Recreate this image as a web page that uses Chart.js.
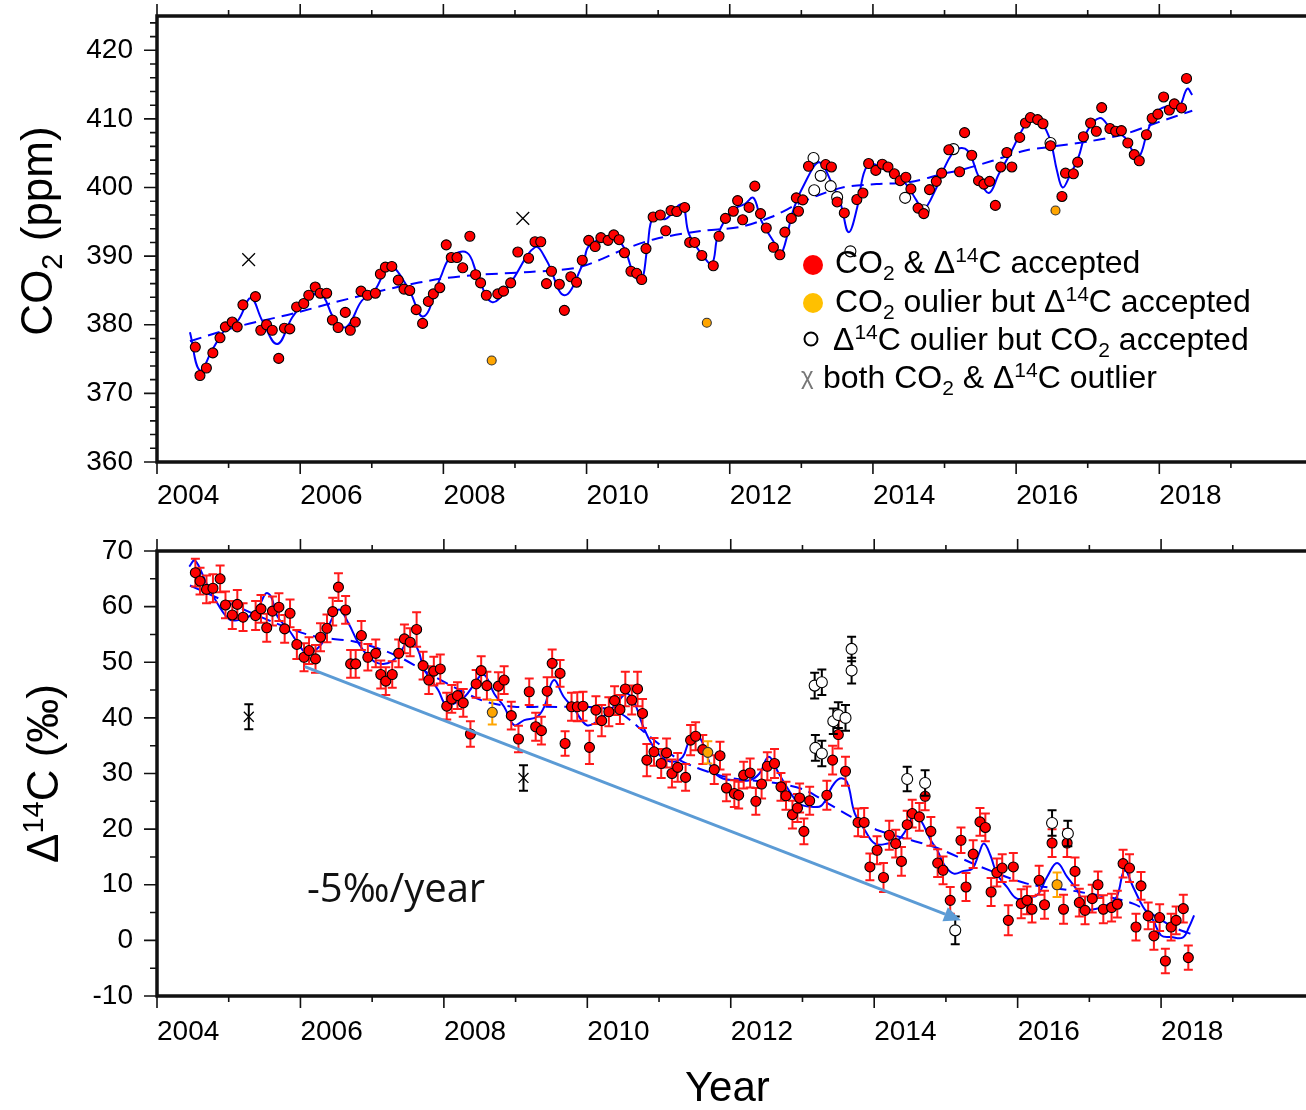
<!DOCTYPE html>
<html>
<head>
<meta charset="utf-8">
<title>CO2 and D14C record</title>
<script src="https://cdn.jsdelivr.net/npm/chart.js@4.4.1/dist/chart.umd.min.js"></script>
<style>
  html, body { margin: 0; padding: 0; background: #fff; }
  .panel { position: absolute; left: 0; width: 1306px; }
  #topPanel { top: 0; height: 530px; }
  #bottomPanel { top: 530px; height: 580px; }
</style>
</head>
<body>
<div class="panel" id="topPanel"><canvas id="co2Chart"></canvas></div>
<div class="panel" id="bottomPanel"><canvas id="d14cChart"></canvas></div>
<script>
var FONT = "'Liberation Sans', Arial, sans-serif";

// tick labels
var yearTicks = [2004, 2006, 2008, 2010, 2012, 2014, 2016, 2018];
var co2Ticks = [360, 370, 380, 390, 400, 410, 420];
var d14cTicks = [-10, 0, 10, 20, 30, 40, 50, 60, 70];

// sample dates (decimal year) where both CO2 and D14C were accepted
var sampleYear = [
  2004.535, 2004.60, 2004.69, 2004.78, 2004.88, 2004.955, 2005.05, 2005.12, 2005.20, 2005.375,
  2005.45, 2005.53, 2005.61, 2005.70, 2005.78, 2005.855, 2005.95, 2006.05, 2006.12, 2006.21,
  2006.28, 2006.37, 2006.45, 2006.53, 2006.63, 2006.70, 2006.77, 2006.85, 2006.94, 2007.05,
  2007.12, 2007.19, 2007.28, 2007.37, 2007.45, 2007.53, 2007.62, 2007.71, 2007.79, 2007.86,
  2007.95, 2008.04, 2008.11, 2008.19, 2008.27, 2008.37, 2008.45, 2008.52, 2008.60, 2008.76,
  2008.84, 2008.94, 2009.04, 2009.19, 2009.28, 2009.36, 2009.44, 2009.51, 2009.62, 2009.69,
  2009.78, 2009.86, 2009.94, 2010.03, 2010.12, 2010.20, 2010.30, 2010.38, 2010.455, 2010.53,
  2010.62, 2010.70, 2010.77, 2010.83, 2010.93, 2011.03, 2011.105, 2011.18, 2011.26, 2011.37,
  2011.44, 2011.51, 2011.61, 2011.77, 2011.85, 2011.94, 2012.05, 2012.11, 2012.18, 2012.27,
  2012.35, 2012.43, 2012.51, 2012.61, 2012.70, 2012.77, 2012.86, 2012.93, 2012.96, 2013.02,
  2013.10, 2013.34, 2013.42, 2013.50, 2013.60, 2013.775, 2013.86, 2013.94, 2014.04, 2014.13,
  2014.21, 2014.30, 2014.38, 2014.46, 2014.53, 2014.63, 2014.71, 2014.79, 2014.885, 2014.96,
  2015.06, 2015.21, 2015.28, 2015.38, 2015.475, 2015.55, 2015.63, 2015.71, 2015.785, 2015.87,
  2015.94, 2016.05, 2016.13, 2016.20, 2016.30, 2016.375, 2016.48, 2016.64, 2016.69, 2016.80,
  2016.86, 2016.94, 2017.04, 2017.12, 2017.195, 2017.31, 2017.39, 2017.47, 2017.56, 2017.65,
  2017.72, 2017.82, 2017.90, 2017.98, 2018.06, 2018.14, 2018.21, 2018.31, 2018.38
];

// CO2 (ppm) at those dates
var co2Val = [
  376.75, 372.6, 373.7, 375.9, 378.1, 379.7, 380.4, 379.7, 382.9, 384.1,
  379.2, 380.0, 379.2, 375.1, 379.5, 379.4, 382.6, 383.1, 384.3, 385.5,
  384.6, 384.6, 380.7, 379.6, 381.8, 379.2, 380.4, 384.9, 384.3, 384.6,
  387.4, 388.4, 388.5, 386.5, 385.2, 385.0, 382.2, 380.2, 383.4, 384.5,
  385.4, 391.65, 389.8, 389.8, 388.3, 392.9, 387.3, 386.1, 384.3, 384.5,
  384.9, 386.1, 390.6, 389.7, 392.1, 392.1, 386.0, 387.8, 385.9, 382.1,
  387.0, 386.2, 389.4, 392.3, 391.4, 392.7, 392.3, 393.1, 392.4, 390.5,
  387.8, 387.5, 386.6, 391.1, 395.7, 396.0, 393.7, 396.65, 396.5, 397.1,
  392.0, 392.0, 390.1, 388.6, 392.9, 395.5, 396.55, 398.1, 395.3, 397.1,
  400.2, 396.2, 394.1, 391.3, 390.2, 393.5, 395.5, 398.5, 396.55, 398.2,
  403.1, 403.35, 403.0, 397.9, 396.3, 398.25, 399.2, 403.5, 402.5, 403.4,
  403.0, 402.0, 401.0, 401.5, 399.8, 397.0, 396.2, 399.7, 400.9, 402.1,
  405.5, 402.3, 408.0, 404.7, 401.0, 400.5, 400.9, 397.4, 403.0, 405.1,
  403.0, 407.3, 409.4, 410.2, 409.9, 409.3, 406.1, 398.7, 402.1, 402.0,
  403.7, 407.4, 409.4, 408.2, 411.65, 408.6, 408.2, 408.3, 406.5, 404.8,
  403.9, 407.7, 410.1, 410.7, 413.2, 411.3, 412.2, 411.6, 415.9
];

// D14C (permil) at those dates, with 1-sigma errors
var d14cVal = [
  66.1, 64.6, 63.1, 63.3, 65.0, 60.3, 58.5, 60.4, 58.1, 58.4,
  59.6, 56.2, 59.2, 59.9, 56.0, 58.8, 53.2, 50.9, 52.1, 50.6,
  54.5, 56.1, 59.1, 63.5, 59.4, 49.7, 49.7, 54.8, 50.9, 51.6,
  47.8, 46.6, 47.8, 51.6, 54.2, 53.6, 55.9, 49.4, 46.8, 48.4,
  48.8, 42.1, 43.4, 44.0, 42.7, 37.1, 46.1, 48.5, 45.8, 45.7,
  46.8, 40.4, 36.2, 44.7, 38.4, 37.7, 44.8, 49.8, 48.0, 35.4,
  42.0, 42.0, 42.1, 34.7, 41.4, 39.5, 41.1, 43.1, 41.5, 45.2,
  43.2, 45.2, 40.8, 32.4, 33.9, 31.8, 33.7, 30.0, 31.1, 29.3,
  36.0, 36.7, 34.3, 30.7, 33.2, 27.4, 26.4, 26.1, 29.7, 30.1,
  25.0, 28.1, 31.3, 31.8, 27.6, 26.0, 22.6, 23.8, 25.6, 19.6,
  25.1, 26.1, 32.4, 37.0, 30.4, 21.2, 21.2, 13.2, 16.2, 11.3,
  18.9, 17.4, 14.2, 20.8, 22.8, 22.2, 25.9, 19.6, 13.9, 12.6,
  7.2, 18.0, 9.6, 15.5, 21.3, 20.3, 8.7, 12.2, 13.0, 3.6,
  13.2, 6.6, 7.2, 5.6, 10.8, 6.4, 17.5, 5.6, 17.5, 12.4,
  6.8, 5.4, 7.5, 10.0, 5.6, 5.9, 6.5, 13.8, 13.0, 2.4,
  9.8, 4.4, 0.8, 4.1, -3.7, 2.4, 3.6, 5.7, -3.1
];
var d14cErr = [
  2.5, 2.4, 2.5, 2.5, 2.4, 2.4, 2.5, 2.6, 2.5, 2.6,
  2.5, 2.5, 2.6, 2.5, 2.5, 2.5, 2.6, 2.5, 2.4, 2.5,
  2.5, 2.5, 2.5, 2.5, 2.5, 2.5, 2.5, 2.6, 2.4, 2.5,
  2.5, 2.5, 2.4, 2.5, 2.6, 2.5, 3.1, 2.5, 2.5, 2.6,
  2.6, 2.4, 2.5, 2.4, 2.5, 2.3, 2.5, 2.6, 2.5, 2.5,
  2.5, 2.5, 2.4, 2.4, 2.5, 2.5, 2.5, 2.5, 2.4, 2.2,
  2.5, 2.6, 2.6, 3.0, 2.5, 2.8, 2.6, 2.6, 2.6, 3.1,
  2.6, 3.1, 2.6, 2.9, 2.5, 2.6, 2.6, 2.5, 2.6, 2.4,
  2.7, 2.5, 2.6, 2.6, 2.5, 2.4, 2.4, 2.4, 2.4, 2.6,
  2.4, 2.6, 2.5, 2.6, 2.5, 2.5, 2.5, 2.5, 2.6, 2.3,
  2.5, 2.6, 2.6, 2.5, 2.6, 2.5, 2.6, 2.4, 2.5, 2.6,
  2.6, 2.5, 2.6, 2.5, 2.5, 2.5, 2.5, 2.6, 2.5, 2.5,
  2.4, 2.3, 2.5, 2.5, 2.5, 2.5, 2.5, 2.5, 2.5, 2.7,
  2.5, 2.6, 2.5, 2.4, 2.6, 2.5, 2.5, 2.6, 2.5, 2.5,
  2.5, 2.5, 2.5, 2.4, 2.5, 2.5, 2.4, 2.5, 2.5, 2.4,
  2.5, 2.4, 2.5, 2.4, 2.2, 2.4, 2.5, 2.5, 2.2
];

// CO2 outlier but D14C accepted
var orangeYear = [2008.675, 2011.68, 2016.55];
var orangeCo2 = [374.8, 380.3, 396.65];
var orangeD14c = [41.0, 33.8, 10.0];
var orangeErr = [2.2, 2.0, 2.2];

// D14C outlier but CO2 accepted
var openCo2Year = [2013.17, 2013.18, 2013.27, 2013.41, 2013.50, 2013.685, 2014.45, 2014.71, 2015.125, 2016.48];
var openCo2 = [404.3, 399.6, 401.7, 400.2, 398.6, 390.7, 398.5, 396.7, 405.6, 406.5];
var openD14cYear = [2013.17, 2013.27, 2013.18, 2013.27, 2013.43, 2013.50, 2013.60, 2013.685, 2013.685, 2014.46, 2014.71, 2015.13, 2016.48, 2016.70];
var openD14c = [45.8, 46.4, 34.6, 33.6, 39.4, 40.5, 40.0, 52.4, 48.5, 29.0, 28.3, 1.8, 21.1, 19.2];
var openErr = [2.3, 2.3, 2.3, 2.3, 2.3, 2.3, 2.3, 2.2, 2.3, 2.2, 2.3, 2.5, 2.3, 2.3];

// both CO2 and D14C outlier
var bothYear = [2005.28, 2009.11];
var bothCo2 = [389.5, 395.5];
var bothD14c = [40.2, 29.2];
var bothErr = [2.25, 2.3];

// smooth fit and trend curves
var co2FitYear = [
  2004.46, 2004.60, 2004.78, 2004.96, 2005.13, 2005.31, 2005.47, 2005.68, 2005.89, 2006.07,
  2006.28, 2006.49, 2006.65, 2006.86, 2007.04, 2007.25, 2007.50, 2007.72, 2007.96, 2008.10,
  2008.33, 2008.47, 2008.68, 2008.93, 2009.28, 2009.44, 2009.69, 2009.95, 2010.04, 2010.36,
  2010.52, 2010.64, 2010.76, 2010.85, 2010.93, 2011.10, 2011.33, 2011.43, 2011.61, 2011.75,
  2011.84, 2012.03, 2012.21, 2012.33, 2012.44, 2012.63, 2012.72, 2012.90, 2013.09, 2013.25,
  2013.41, 2013.55, 2013.66, 2013.78, 2013.87, 2013.96, 2014.15, 2014.42, 2014.61, 2014.70,
  2014.89, 2014.98, 2015.16, 2015.32, 2015.48, 2015.62, 2015.76, 2015.94, 2016.09, 2016.22,
  2016.36, 2016.48, 2016.57, 2016.65, 2016.75, 2016.87, 2016.985, 2017.17, 2017.33, 2017.52,
  2017.63, 2017.72, 2017.84, 2017.98, 2018.14, 2018.27, 2018.39, 2018.46
];
var co2FitVal = [
  378.9, 373.35, 376.5, 379.4, 380.6, 383.9, 380.6, 377.2, 381.1, 383.3,
  384.6, 380.6, 379.7, 383.5, 385.0, 388.5, 385.5, 381.2, 386.9, 389.85,
  390.5, 387.4, 383.3, 386.0, 391.3, 389.4, 384.3, 388.9, 391.55, 392.8,
  391.3, 387.9, 386.2, 391.3, 395.7, 395.4, 397.5, 393.25, 390.3, 388.9,
  393.25, 396.65, 397.6, 398.5, 395.2, 391.8, 390.3, 397.1, 401.5, 403.7,
  401.0, 397.6, 393.5, 397.1, 402.0, 403.45, 402.7, 401.0, 398.1, 396.65,
  400.05, 402.5, 405.5, 405.4, 401.5, 399.2, 402.0, 405.4, 408.5, 410.3,
  409.4, 406.8, 402.5, 400.0, 401.75, 404.4, 408.1, 410.15, 408.5, 407.3,
  405.3, 404.5, 408.3, 411.2, 411.9, 411.65, 414.4, 413.5
];
var co2TrendYear = [
  2004.46, 2005.15, 2005.89, 2006.49, 2007.36, 2007.96, 2008.52, 2009.21, 2009.90, 2010.55,
  2010.96, 2011.61, 2012.12, 2012.58, 2012.95, 2013.22, 2013.59, 2014.05, 2014.52, 2014.98,
  2015.21, 2015.67, 2016.13, 2016.46, 2017.06, 2017.52, 2017.98, 2018.46
];
var co2TrendVal = [
  377.6, 379.8, 381.6, 383.3, 385.5, 386.7, 387.3, 387.7, 388.4, 391.1,
  392.5, 393.7, 394.2, 395.7, 397.6, 398.8, 400.05, 400.5, 400.8, 402.0,
  402.5, 403.9, 405.4, 405.9, 406.8, 407.8, 409.5, 411.2
];
var d14cFitYear = [
  2004.45, 2004.53, 2004.69, 2004.87, 2005.01, 2005.13, 2005.29, 2005.43, 2005.52, 2005.59,
  2005.68, 2005.84, 2006.03, 2006.12, 2006.30, 2006.42, 2006.54, 2006.67, 2006.81, 2006.95,
  2007.09, 2007.27, 2007.41, 2007.53, 2007.64, 2007.73, 2007.92, 2008.03, 2008.15, 2008.29,
  2008.43, 2008.52, 2008.59, 2008.70, 2008.84, 2008.98, 2009.12, 2009.30, 2009.40, 2009.53,
  2009.67, 2009.81, 2009.99, 2010.13, 2010.27, 2010.41, 2010.55, 2010.66, 2010.78, 2010.92,
  2011.03, 2011.19, 2011.33, 2011.43, 2011.56, 2011.75, 2011.89, 2012.07, 2012.26, 2012.40,
  2012.53, 2012.67, 2012.81, 2012.95, 2013.13, 2013.27, 2013.41, 2013.52, 2013.62, 2013.73,
  2013.87, 2014.01, 2014.19, 2014.33, 2014.47, 2014.56, 2014.65, 2014.79, 2014.88, 2014.98,
  2015.11, 2015.25, 2015.37, 2015.46, 2015.53, 2015.62, 2015.71, 2015.85, 2015.99, 2016.13,
  2016.27, 2016.41, 2016.55, 2016.69, 2016.83, 2016.96, 2017.10, 2017.24, 2017.38, 2017.49,
  2017.61, 2017.75, 2017.89, 2018.00, 2018.14, 2018.30, 2018.39, 2018.46
];
var d14cFitVal = [
  67.2, 68.3, 64.2, 60.0, 57.7, 57.6, 58.3, 60.3, 62.4, 61.8,
  58.2, 55.8, 52.2, 51.6, 53.4, 57.3, 59.5, 57.0, 53.4, 51.0,
  49.8, 50.1, 52.2, 54.2, 52.2, 48.6, 45.0, 42.3, 42.6, 43.8,
  46.2, 47.7, 47.4, 44.4, 42.0, 38.7, 39.6, 40.2, 42.0, 46.8,
  43.8, 41.7, 38.7, 39.3, 40.8, 42.6, 44.4, 42.6, 38.4, 34.8,
  33.0, 32.1, 33.0, 36.0, 36.6, 30.6, 29.1, 28.8, 28.8, 30.0,
  33.0, 30.0, 27.0, 24.6, 24.0, 24.3, 27.6, 29.1, 28.5, 22.8,
  19.8, 17.4, 17.4, 18.0, 20.4, 22.8, 21.6, 18.0, 16.2, 13.5,
  12.0, 12.5, 12.9, 15.6, 17.4, 15.3, 12.0, 9.6, 7.5, 7.8,
  8.1, 11.4, 13.9, 11.4, 9.0, 5.7, 5.7, 6.3, 7.8, 12.6,
  9.6, 6.0, 3.6, 0.9, 0.6, 0.5, 2.4, 4.5
];
var d14cTrendYear = [
  2004.46, 2004.96, 2005.66, 2006.21, 2006.76, 2007.32, 2007.87, 2008.52, 2008.98, 2009.44,
  2010.36, 2010.82, 2011.29, 2011.93, 2012.67, 2013.04, 2013.36, 2013.68, 2014.05, 2014.52,
  2014.88, 2015.49, 2016.13, 2016.87, 2017.61, 2018.17, 2018.47
];
var d14cTrendVal = [
  63.8, 60.9, 57.0, 54.6, 53.7, 51.3, 47.4, 43.2, 42.0, 42.0,
  41.4, 37.2, 32.4, 29.4, 28.2, 27.0, 24.6, 22.2, 19.8, 18.0,
  16.6, 13.2, 10.2, 8.7, 6.6, 2.4, 0.9
];

// -5 permil/year guide arrow (data units)
var slopeFrom = [2006.06, 49.2];
var slopeTo = [2015.21, 3.6];
var slopeLabelAt = [2006.09, 6.9];

function pts(xs, ys) {
  return xs.map(function (x, i) { return { x: x, y: ys[i] }; });
}

// rich text: parts are [text, kind] with kind 0 normal, -1 subscript, 1 superscript
function partFont(kind, size) {
  return (kind === 0 ? size : Math.round(size * 0.65)) + 'px ' + FONT;
}
function richWidth(ctx, parts, size) {
  var w = 0;
  parts.forEach(function (p) { ctx.font = partFont(p[1], size); w += ctx.measureText(p[0]).width; });
  return w;
}
function drawRich(ctx, parts, x, y, size) {
  var cx = x;
  parts.forEach(function (p) {
    var dy = p[1] === -1 ? size * 0.22 : (p[1] === 1 ? -size * 0.34 : 0);
    ctx.font = partFont(p[1], size);
    ctx.fillText(p[0], cx, y + dy);
    cx += ctx.measureText(p[0]).width;
  });
}

var legendRows = [
  [['CO', 0], ['2', -1], [' & \u0394', 0], ['14', 1], ['C accepted', 0]],
  [['CO', 0], ['2', -1], [' oulier but \u0394', 0], ['14', 1], ['C accepted', 0]],
  [['\u0394', 0], ['14', 1], ['C oulier but CO', 0], ['2', -1], [' accepted', 0]],
  [['both CO', 0], ['2', -1], [' & \u0394', 0], ['14', 1], ['C outlier', 0]]
];

function drawLegend(ctx, a) {
  var L = a.left, T = a.top;
  ctx.fillStyle = '#ff0000';
  ctx.beginPath(); ctx.arc(L + 656, T + 249, 10, 0, Math.PI * 2); ctx.fill();
  ctx.fillStyle = '#ffc000';
  ctx.beginPath(); ctx.arc(L + 656, T + 287, 10, 0, Math.PI * 2); ctx.fill();
  ctx.strokeStyle = '#000'; ctx.lineWidth = 2;
  ctx.beginPath(); ctx.arc(L + 654, T + 323, 6.5, 0, Math.PI * 2); ctx.stroke();
  ctx.fillStyle = '#777';
  ctx.font = '24px ' + FONT;
  ctx.fillText('\u03c7', L + 644, T + 368);
  ctx.fillStyle = '#000';
  var tx = [678, 678, 676, 666], base = [257, 296, 334, 372];
  legendRows.forEach(function (row, i) { drawRich(ctx, row, L + tx[i], T + base[i], 32); });
}

function drawSlope(chart) {
  var ctx = chart.ctx, xs = chart.scales.x, ys = chart.scales.y;
  var x0 = xs.getPixelForValue(slopeFrom[0]), y0 = ys.getPixelForValue(slopeFrom[1]);
  var x1 = xs.getPixelForValue(slopeTo[0]), y1 = ys.getPixelForValue(slopeTo[1]);
  var ang = Math.atan2(y1 - y0, x1 - x0), head = 17, half = 7.5;
  var bx = x1 - head * Math.cos(ang), by = y1 - head * Math.sin(ang);
  ctx.save();
  ctx.strokeStyle = '#5b9bd5'; ctx.fillStyle = '#5b9bd5'; ctx.lineWidth = 3;
  ctx.beginPath(); ctx.moveTo(x0, y0); ctx.lineTo(bx, by); ctx.stroke();
  ctx.beginPath();
  ctx.moveTo(x1, y1);
  ctx.lineTo(bx + half * Math.sin(ang), by - half * Math.cos(ang));
  ctx.lineTo(bx - half * Math.sin(ang), by + half * Math.cos(ang));
  ctx.closePath(); ctx.fill();
  ctx.fillStyle = '#111';
  ctx.font = "40px 'Open Sans', 'Noto Sans', sans-serif";
  ctx.textBaseline = 'alphabetic'; ctx.textAlign = 'left';
  ctx.fillText('-5\u2030/year', xs.getPixelForValue(slopeLabelAt[0]), ys.getPixelForValue(slopeLabelAt[1]));
  ctx.restore();
}

// error bars, drawn just under their own dataset
var errorBars = {
  id: 'errorBars',
  beforeDatasetDraw: function (chart, args) {
    var ds = chart.data.datasets[args.index];
    if (!ds.errors) return;
    var ctx = chart.ctx, ys = chart.scales.y;
    ctx.save();
    ctx.strokeStyle = ds.errorColor; ctx.lineWidth = 2;
    ctx.beginPath();
    args.meta.data.forEach(function (pt, i) {
      var v = ds.data[i].y, e = ds.errors[i];
      var t = ys.getPixelForValue(v + e), b = ys.getPixelForValue(v - e);
      ctx.moveTo(pt.x, t); ctx.lineTo(pt.x, b);
      ctx.moveTo(pt.x - 4.5, t); ctx.lineTo(pt.x + 4.5, t);
      ctx.moveTo(pt.x - 4.5, b); ctx.lineTo(pt.x + 4.5, b);
    });
    ctx.stroke();
    ctx.restore();
  }
};

// frame: outward ticks, thick border, rotated y title, legend and slope note
var frame = {
  id: 'frame',
  afterDatasetsDraw: function (chart, args, o) {
    if (o.slope) drawSlope(chart);
  },
  afterDraw: function (chart, args, o) {
    var ctx = chart.ctx, a = chart.chartArea, xs = chart.scales.x, ys = chart.scales.y;
    ctx.save();
    ctx.strokeStyle = '#111'; ctx.lineWidth = 1.6;
    ctx.beginPath();
    for (var yr = Math.ceil(xs.min); yr <= xs.max; yr++) {
      var px = xs.getPixelForValue(yr), len = yr % 2 === 0 ? 12 : 6;
      ctx.moveTo(px, a.top); ctx.lineTo(px, a.top - len);
      ctx.moveTo(px, a.bottom); ctx.lineTo(px, a.bottom + len);
    }
    for (var v = ys.min; v <= ys.max; v += o.yMinor) {
      var py = ys.getPixelForValue(v), l = v % o.yMajor === 0 ? 13 : 7;
      ctx.moveTo(a.left, py); ctx.lineTo(a.left - l, py);
    }
    ctx.stroke();
    ctx.lineWidth = 3.5;
    ctx.beginPath();
    ctx.moveTo(chart.width, a.top); ctx.lineTo(a.left, a.top);
    ctx.lineTo(a.left, a.bottom); ctx.lineTo(chart.width, a.bottom);
    ctx.stroke();

    ctx.fillStyle = '#000'; ctx.textAlign = 'left'; ctx.textBaseline = 'alphabetic';
    if (o.legend) drawLegend(ctx, a);

    ctx.translate(o.titleX, (a.top + a.bottom) / 2 + o.titleShift);
    ctx.rotate(-Math.PI / 2);
    ctx.fillStyle = '#000';
    var w = richWidth(ctx, o.title, 44);
    drawRich(ctx, o.title, -w / 2, 0, 44);
    ctx.restore();
  }
};

Chart.defaults.font.family = FONT;
Chart.defaults.color = '#000';
Chart.register(errorBars, frame);

function xAxis(height, pad, withTitle) {
  return {
    type: 'linear', min: 2004, max: 2019.905,
    afterBuildTicks: function (s) { s.ticks = yearTicks.map(function (v) { return { value: v }; }); },
    afterFit: function (s) { s.height = height; s.paddingLeft = 0; s.paddingRight = 0; },
    grid: { display: false, drawTicks: false },
    border: { display: false },
    ticks: {
      align: 'start', padding: pad, maxRotation: 0, minRotation: 0, autoSkip: false,
      color: '#000', font: { size: 28 },
      callback: function (v) { return String(v); }
    },
    title: {
      display: withTitle, text: 'Year', color: '#000',
      font: { size: 42, lineHeight: 1 }, padding: { top: 0, bottom: 0 }
    }
  };
}
function yAxis(min, max, ticks) {
  return {
    type: 'linear', min: min, max: max,
    afterBuildTicks: function (s) { s.ticks = ticks.map(function (v) { return { value: v }; }); },
    afterFit: function (s) { s.width = 157; s.paddingTop = 0; s.paddingBottom = 0; },
    grid: { display: false, drawTicks: false },
    border: { display: false },
    ticks: { padding: 24, color: '#000', font: { size: 28 }, autoSkip: false }
  };
}

function lineSet(xs, ys, dashed, order) {
  return {
    data: pts(xs, ys), showLine: true, borderColor: '#0000ff', borderWidth: 2,
    borderDash: dashed ? [12, 7] : [], pointRadius: 0, tension: dashed ? 0.3 : 0.4, order: order
  };
}
function dotSet(xs, ys, fill, stroke, r, order, extra) {
  var ds = {
    data: pts(xs, ys), showLine: false, pointRadius: r, pointBackgroundColor: fill,
    pointBorderColor: stroke, pointBorderWidth: 1.1, order: order
  };
  for (var k in extra) ds[k] = extra[k];
  return ds;
}

new Chart(document.getElementById('co2Chart'), {
  type: 'scatter',
  data: {
    datasets: [
      lineSet(co2FitYear, co2FitVal, false, 10),
      lineSet(co2TrendYear, co2TrendVal, true, 9),
      dotSet(openCo2Year, openCo2, '#ffffff', '#000', 5.5, 6, {}),
      dotSet(orangeYear, orangeCo2, '#ffa500', '#333', 4.5, 5, {}),
      dotSet(sampleYear, co2Val, '#ff0000', '#000', 5, 4, {}),
      dotSet(bothYear, bothCo2, 'rgba(0,0,0,0)', '#000', 9, 1, { pointStyle: 'crossRot', pointBorderWidth: 1.3 })
    ]
  },
  options: {
    responsive: true, maintainAspectRatio: false, animation: false, events: [],
    layout: { padding: { top: 16, left: 0, right: 0, bottom: 0 } },
    scales: { x: xAxis(68, 17, false), y: yAxis(360, 425, co2Ticks) },
    plugins: {
      legend: { display: false }, tooltip: { enabled: false },
      frame: { yMinor: 2, yMajor: 10, titleX: 52, titleShift: -8, legend: true, slope: false,
               title: [['CO', 0], ['2', -1], [' (ppm)', 0]] }
    }
  }
});

new Chart(document.getElementById('d14cChart'), {
  type: 'scatter',
  data: {
    datasets: [
      lineSet(d14cFitYear, d14cFitVal, false, 10),
      lineSet(d14cTrendYear, d14cTrendVal, true, 9),
      dotSet(sampleYear, d14cVal, '#ff0000', '#000', 5, 6, { errors: d14cErr, errorColor: '#ff1a1a' }),
      dotSet(orangeYear, orangeD14c, '#ffa500', '#333', 5, 5, { errors: orangeErr, errorColor: '#ffa500' }),
      dotSet(openD14cYear, openD14c, '#ffffff', '#000', 5.5, 4, { errors: openErr, errorColor: '#000' }),
      dotSet(bothYear, bothD14c, 'rgba(0,0,0,0)', '#000', 7, 1, { pointStyle: 'crossRot', pointBorderWidth: 1.3, errors: bothErr, errorColor: '#000' })
    ]
  },
  options: {
    responsive: true, maintainAspectRatio: false, animation: false, events: [],
    layout: { padding: { top: 21, left: 0, right: 0, bottom: 0 } },
    scales: { x: xAxis(114, 19, true), y: yAxis(-10, 70, d14cTicks) },
    plugins: {
      legend: { display: false }, tooltip: { enabled: false },
      frame: { yMinor: 5, yMajor: 10, titleX: 58, titleShift: 0, legend: false, slope: true,
               title: [['\u0394', 0], ['14', 1], ['C (\u2030)', 0]] }
    }
  }
});
</script>
</body>
</html>
